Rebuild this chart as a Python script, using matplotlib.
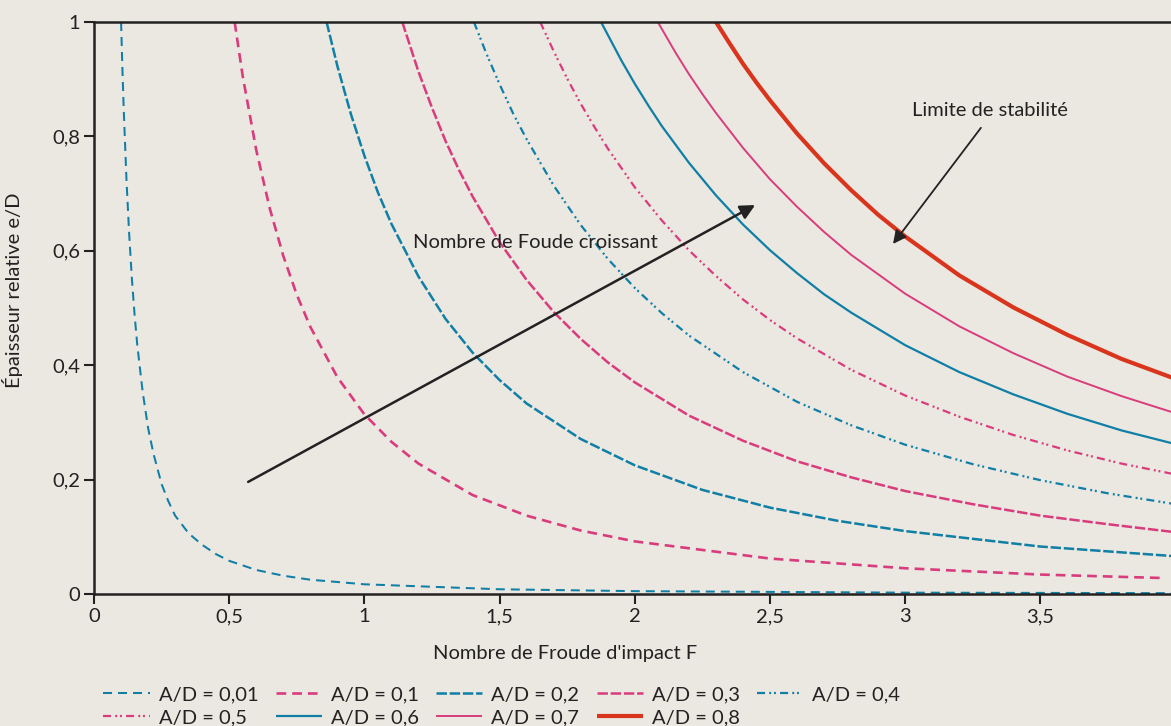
import numpy as np
import matplotlib
matplotlib.use("Agg")
import matplotlib.pyplot as plt
from matplotlib.ticker import FuncFormatter

plt.rcParams['font.family'] = ['Lato', 'DejaVu Sans']
plt.rcParams['lines.scale_dashes'] = False

# relative thickness e/D against impact Froude number, one curve per A/D
f_001 = [0.10, 0.105, 0.11, 0.12, 0.13, 0.14, 0.15, 0.16, 0.18, 0.20, 0.22, 0.25, 0.275, 0.30, 0.35, 0.40, 0.45, 0.50, 0.60, 0.70, 0.80, 1.0, 1.5, 2.0, 3.0, 4.0]
e_001 = [1.0, 0.917, 0.845, 0.724, 0.629, 0.551, 0.488, 0.435, 0.353, 0.290, 0.245, 0.192, 0.162, 0.137, 0.106, 0.086, 0.070, 0.058, 0.042, 0.032, 0.025, 0.017, 0.0083, 0.005, 0.0024, 0.0015]

f_01 = [0.52, 0.55, 0.60, 0.65, 0.70, 0.75, 0.80, 0.90, 1.0, 1.1, 1.2, 1.4, 1.6, 1.8, 2.0, 2.5, 3.0, 3.5, 3.95]
e_01 = [1.0, 0.905, 0.776, 0.674, 0.591, 0.523, 0.467, 0.379, 0.314, 0.266, 0.228, 0.173, 0.137, 0.111, 0.092, 0.062, 0.045, 0.034, 0.028]

f_02 = [0.86, 0.90, 0.95, 1.0, 1.05, 1.1, 1.2, 1.3, 1.4, 1.5, 1.6, 1.8, 2.0, 2.25, 2.5, 2.75, 3.0, 3.5, 4.0]
e_02 = [1.0, 0.923, 0.839, 0.766, 0.702, 0.647, 0.555, 0.481, 0.422, 0.374, 0.333, 0.271, 0.225, 0.182, 0.151, 0.128, 0.110, 0.083, 0.066]

f_03 = [1.14, 1.2, 1.25, 1.3, 1.35, 1.4, 1.5, 1.6, 1.7, 1.8, 1.9, 2.0, 2.2, 2.4, 2.6, 2.8, 3.0, 3.25, 3.5, 3.75, 4.0]
e_03 = [1.0, 0.913, 0.850, 0.792, 0.741, 0.695, 0.615, 0.549, 0.493, 0.446, 0.405, 0.370, 0.312, 0.268, 0.232, 0.204, 0.180, 0.157, 0.137, 0.122, 0.108]

f_04 = [1.405, 1.45, 1.5, 1.55, 1.6, 1.7, 1.8, 1.9, 2.0, 2.1, 2.2, 2.4, 2.6, 2.8, 3.0, 3.25, 3.5, 3.75, 4.0]
e_04 = [1.0, 0.946, 0.891, 0.840, 0.795, 0.714, 0.645, 0.586, 0.535, 0.491, 0.452, 0.388, 0.336, 0.295, 0.261, 0.227, 0.199, 0.176, 0.157]

f_05 = [1.65, 1.7, 1.75, 1.8, 1.85, 1.9, 2.0, 2.1, 2.2, 2.3, 2.4, 2.5, 2.6, 2.8, 3.0, 3.2, 3.4, 3.6, 3.8, 4.0]
e_05 = [1.0, 0.949, 0.901, 0.857, 0.817, 0.779, 0.711, 0.653, 0.601, 0.556, 0.515, 0.479, 0.447, 0.392, 0.347, 0.310, 0.278, 0.251, 0.228, 0.209]

f_06 = [1.875, 1.95, 2.0, 2.05, 2.1, 2.2, 2.3, 2.4, 2.5, 2.6, 2.7, 2.8, 3.0, 3.2, 3.4, 3.6, 3.8, 4.0]
e_06 = [1.0, 0.933, 0.892, 0.854, 0.818, 0.754, 0.697, 0.646, 0.601, 0.561, 0.524, 0.492, 0.435, 0.388, 0.349, 0.315, 0.286, 0.262]

f_07 = [2.085, 2.15, 2.2, 2.25, 2.3, 2.4, 2.5, 2.6, 2.7, 2.8, 3.0, 3.2, 3.4, 3.6, 3.8, 4.0]
e_07 = [1.0, 0.947, 0.909, 0.874, 0.841, 0.780, 0.725, 0.677, 0.633, 0.593, 0.525, 0.468, 0.421, 0.380, 0.346, 0.316]

f_08 = [2.30, 2.35, 2.4, 2.45, 2.5, 2.6, 2.7, 2.8, 2.9, 3.0, 3.2, 3.4, 3.6, 3.8, 4.0]
e_08 = [1.0, 0.963, 0.927, 0.894, 0.863, 0.805, 0.753, 0.706, 0.663, 0.625, 0.557, 0.501, 0.453, 0.411, 0.376]

labels = ['A/D = 0,01', 'A/D = 0,1', 'A/D = 0,2', 'A/D = 0,3', 'A/D = 0,4',
          'A/D = 0,5', 'A/D = 0,6', 'A/D = 0,7', 'A/D = 0,8']

xticks = [0, 0.5, 1, 1.5, 2, 2.5, 3, 3.5]
yticks = [0, 0.2, 0.4, 0.6, 0.8, 1]

blue = '#0f7fa6'
pink = '#d93c7c'
red = '#d9341c'
bg = '#ebe7e1'
ink = '#222222'
fs = 14.5

dash_ddot = (5.8, 3.0, 1.4, 2.0, 1.4, 3.0)

series = [
    (f_001, e_001, blue, 1.45, (6.5, 4.3)),
    (f_01, e_01, pink, 1.9, (7.0, 4.3)),
    (f_02, e_02, blue, 1.8, (7.5, 2.0)),
    (f_03, e_03, pink, 1.8, (7.5, 2.0)),
    (f_04, e_04, blue, 1.6, dash_ddot),
    (f_05, e_05, pink, 1.6, dash_ddot),
    (f_06, e_06, blue, 1.6, None),
    (f_07, e_07, pink, 1.4, None),
    (f_08, e_08, red, 3.0, None),
]

fig = plt.figure(figsize=(11.71, 7.26), dpi=100, facecolor=bg)
ax = fig.add_axes([0.0803, 0.1818, 0.9197, 0.7879], facecolor=bg)

handles = []
for (fx, ey, col, lw, dash), lab in zip(series, labels):
    if dash is None:
        h, = ax.plot(fx, ey, color=col, lw=lw, solid_capstyle='butt',
                     solid_joinstyle='round', label=lab)
    else:
        h, = ax.plot(fx, ey, color=col, lw=lw, dashes=dash, dash_capstyle='butt', label=lab)
    handles.append(h)

ax.set_xlim(0, 3.983)
ax.set_ylim(0, 1)
ax.set_xticks(xticks)
ax.set_yticks(yticks)

comma = FuncFormatter(lambda v, p: ('%g' % v).replace('.', ','))
ax.xaxis.set_major_formatter(comma)
ax.yaxis.set_major_formatter(comma)
ax.tick_params(axis='both', direction='out', length=7, width=1.5, color=ink,
               labelsize=fs, labelcolor=ink, pad=3)

for side in ['left', 'bottom', 'top']:
    ax.spines[side].set_linewidth(1.8)
    ax.spines[side].set_color(ink)
ax.spines['right'].set_visible(False)

# axis titles
fig.text(565 / 1171, 1 - 653 / 726, "Nombre de Froude d'impact F", ha='center', va='center',
         fontsize=fs, color=ink)
fig.text(13 / 1171, 1 - 290 / 726, 'Épaisseur relative e/D', ha='center', va='center',
         rotation=90, fontsize=fs, color=ink)

# arrows and notes
ax.annotate('', xy=(2.445, 0.68), xytext=(0.57, 0.196),
            arrowprops=dict(arrowstyle='-|>', color=ink, lw=1.8, mutation_scale=22,
                            shrinkA=0, shrinkB=0))
ax.text(1.18, 0.614, 'Nombre de Foude croissant', fontsize=fs, color=ink,
        ha='left', va='center')

ax.annotate('', xy=(2.955, 0.612), xytext=(3.28, 0.815),
            arrowprops=dict(arrowstyle='-|>', color=ink, lw=1.3, mutation_scale=20,
                            shrinkA=0, shrinkB=0))
ax.text(3.025, 0.845, 'Limite de stabilité', fontsize=fs, color=ink,
        ha='left', va='center')

# legend filled row by row (5 columns, 2 rows)
order = [0, 5, 1, 6, 2, 7, 3, 8, 4]
fig.legend([handles[i] for i in order], [labels[i] for i in order],
           ncol=5, loc='lower left', bbox_to_anchor=(0.078, -0.017),
           frameon=False, fontsize=fs, handlelength=2.3, handletextpad=0.45,
           columnspacing=0.85, labelspacing=0.3, borderaxespad=0.2,
           labelcolor=ink)

fig.savefig('out.png', dpi=100, facecolor=bg)
